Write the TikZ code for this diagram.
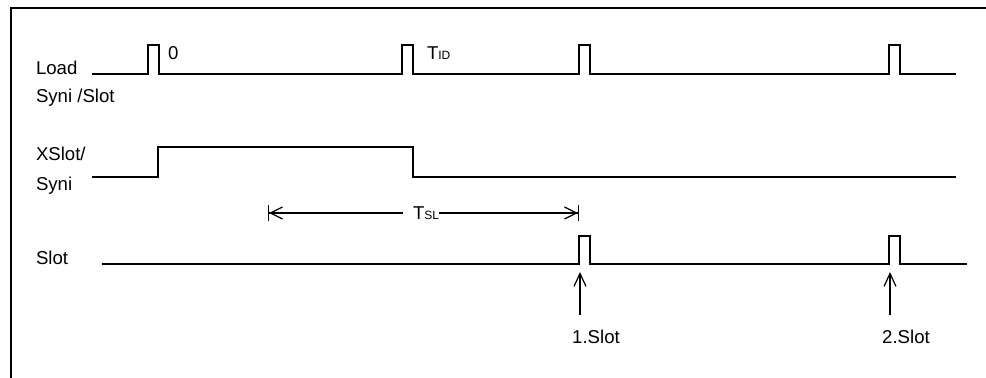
\documentclass[tikz,border=0pt]{standalone}
\usepackage{fontspec}
\setmainfont{Liberation Sans}
\usetikzlibrary{arrows.meta}

\newcommand{\lowcaps}[1]{{\fontsize{6}{7}\selectfont #1}}

\tikzstyle{frame} = [line width=1pt]
\tikzstyle{wave}  = [line width=1pt, line join=miter]
\tikzstyle{lbl}   = [inner sep=0pt, outer sep=0pt, anchor=base west, font=\fontsize{9.3}{11}\selectfont]
\tikzstyle{barb}  = [line width=0.6pt]
\tikzstyle{dimL}  = [barb, {Bar[width=8pt,sep=0pt]Straight Barb[length=6pt,width=6pt,sep=0pt]}-]
\tikzstyle{dimR}  = [barb, -{Straight Barb[length=6pt,width=6pt,sep=0pt]Bar[width=8pt,sep=0pt]}]
\tikzstyle{up}    = [barb, -{Straight Barb[length=6.5pt,width=6pt]}]

\begin{document}
\begin{tikzpicture}[x=0.5pt, y=-0.5pt]
  \useasboundingbox (0,0) rectangle (986,378);
  \draw[frame] (11,378) -- (11,8) -- (986,8);

  % signal names
  \node[lbl] (load)  at (36,75)  {Load};
  \node[lbl] (synsl) at (36,103) {Syni /Slot};
  \node[lbl] (xslot) at (36,161) {XSlot/};
  \node[lbl] (xsyni) at (36,191) {Syni};
  \node[lbl] (slot)  at (36,265) {Slot};

  % Load
  \draw[wave] (92,74) foreach \x in {148,402,579,889} { -- (\x,74) -- (\x,45) -- ++(11,0) -- ++(0,29) } -- (956,74);
  \node[lbl] (zero) at (168,60) {0};
  \node[lbl] (tid)  at (427,60) {T\lowcaps{ID}};

  % XSlot/Syni
  \draw[wave] (92,177) -- (158,177) -- (158,147) -- (413,147) -- (413,177) -- (956,177);

  % TSL
  \coordinate (tsl-l) at (268,213);
  \coordinate (tsl-r) at (579,213);
  \node[lbl] (tsl) at (413,220) {T\lowcaps{SL}};
  \draw[dimL, shorten >=5pt] (tsl-l) -- (tsl-l -| tsl.west);
  \draw[dimR] (tsl-l -| tsl.east) -- (tsl-r);

  % Slot
  \draw[wave] (102,264) foreach \x in {579,889} { -- (\x,264) -- (\x,236) -- ++(11,0) -- ++(0,28) } -- (967,264);

  \node[lbl, anchor=base] (s1) at (596,344) {1.Slot};
  \node[lbl, anchor=base] (s2) at (906,344) {2.Slot};
  \coordinate (s1tip) at (580,272);
  \coordinate (s2tip) at (890,272);
  \draw[up, shorten <=8pt] (s1.north -| s1tip) -- (s1tip);
  \draw[up, shorten <=8pt] (s2.north -| s2tip) -- (s2tip);
\end{tikzpicture}
\end{document}
